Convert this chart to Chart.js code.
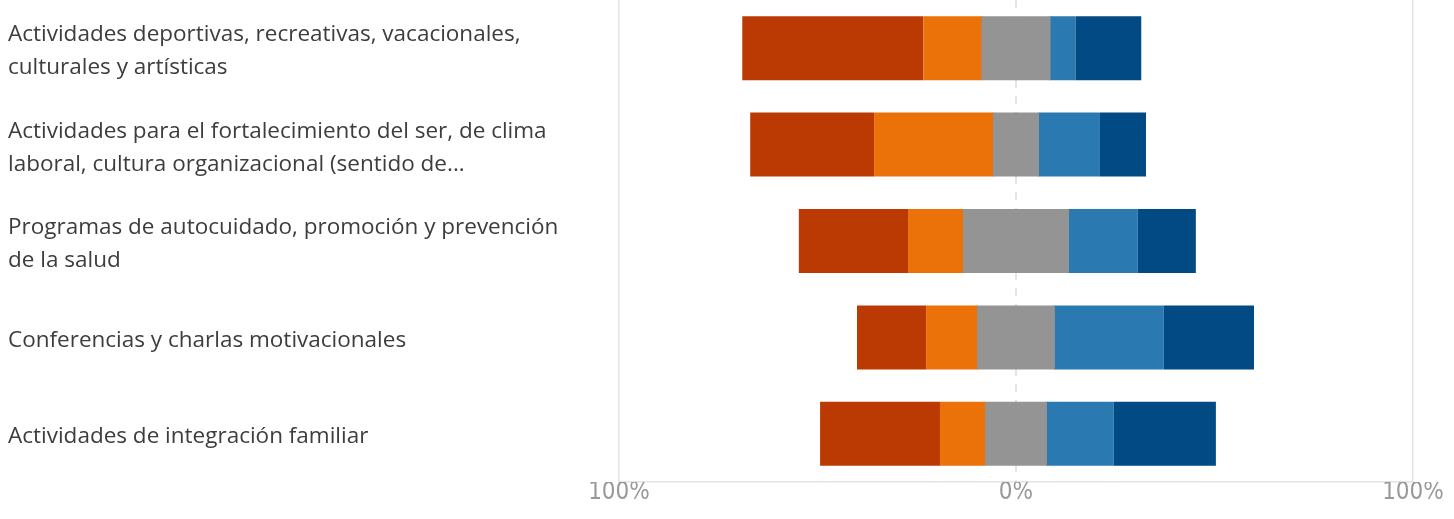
<!DOCTYPE html>
<html>
<head>
<meta charset="utf-8">
<script src="https://cdn.jsdelivr.net/npm/chart.js@4"></script>
<style>
  html, body { margin: 0; padding: 0; background: #fff; }
  #wrap { width: 1454px; height: 519px; position: relative; }
</style>
</head>
<body>
<div id="wrap"><canvas id="c"></canvas></div>
<script>
// Categories (wrapped as shown)
const categories = [
  ["Actividades deportivas, recreativas, vacacionales,", "culturales y artísticas"],
  ["Actividades para el fortalecimiento del ser, de clima", "laboral, cultura organizacional (sentido de..."],
  ["Programas de autocuidado, promoción y prevención", "de la salud"],
  "Conferencias y charlas motivacionales",
  "Actividades de integración familiar"
];
// Series values (% of responses)
const muyInsatisfecho = [45.6, 31.2, 27.5, 17.4, 30.2];
const insatisfecho    = [14.9, 30.2, 14.1, 13.1, 11.6];
const neutral         = [16.9, 11.1, 26.2, 19.1, 15.1];
const satisfecho      = [6.5, 15.6, 17.6, 27.7, 17.1];
const muySatisfecho   = [16.6, 11.6, 14.6, 22.7, 25.7];
const tickValues = [-100, 0, 100];
const tickLabels = ["100%", "0%", "100%"];

const C_RED = '#BB3A03', C_OR = '#EB7209', C_GR = '#949494', C_LB = '#2B79B1', C_DB = '#014A84';

const neg = a => a.map(v => -v);
const half = a => a.map(v => v / 2);

const zeroLine = {
  id: 'zeroLine',
  beforeDatasetsDraw(chart) {
    const x = chart.scales.x.getPixelForValue(0);
    const { top, bottom } = chart.chartArea;
    const ctx = chart.ctx;
    ctx.save();
    ctx.strokeStyle = '#dddddd';
    ctx.lineWidth = 1.5;
    ctx.setLineDash([8, 8]);
    ctx.beginPath();
    ctx.moveTo(Math.round(x), top);
    ctx.lineTo(Math.round(x), bottom);
    ctx.stroke();
    ctx.restore();
  }
};

const common = { stack: 's', borderWidth: 0, barPercentage: 0.664, categoryPercentage: 1 };
// neutral halves are inflated by 1px to hide the seam at 0; thickness compensated
const grayOpts = { ...common, inflateAmount: 1, barPercentage: 0.6433 };

new Chart(document.getElementById('c'), {
  type: 'bar',
  data: {
    labels: categories,
    datasets: [
      { label: 'Neutral', data: neg(half(neutral)), backgroundColor: C_GR, ...grayOpts },
      { label: 'Insatisfecho', data: neg(insatisfecho), backgroundColor: C_OR, ...common },
      { label: 'Muy insatisfecho', data: neg(muyInsatisfecho), backgroundColor: C_RED, ...common },
      { label: 'Neutral ', data: half(neutral), backgroundColor: C_GR, ...grayOpts },
      { label: 'Satisfecho', data: satisfecho, backgroundColor: C_LB, ...common },
      { label: 'Muy satisfecho', data: muySatisfecho, backgroundColor: C_DB, ...common }
    ]
  },
  options: {
    indexAxis: 'y',
    responsive: true,
    maintainAspectRatio: false,
    animation: false,
    layout: { padding: { left: 8, right: 41, top: 0, bottom: 0 } },
    plugins: { legend: { display: false }, tooltip: { enabled: false } },
    scales: {
      x: {
        stacked: true,
        min: -100, max: 100,
        afterBuildTicks: s => { s.ticks = tickValues.map(v => ({ value: v })); },
        afterFit: s => { s.height = 37; },
        ticks: {
          padding: -1,
          color: '#999999',
          font: { family: "'Liberation Sans Narrow', 'DejaVu Sans Condensed', 'Liberation Sans', sans-serif", size: 24, lineHeight: 1 },
          callback: (v, i) => tickLabels[i]
        },
        grid: {
          drawTicks: false,
          color: ctx => (ctx.tick && ctx.tick.value === 0) ? 'rgba(0,0,0,0)' : '#e3e3e3',
          lineWidth: 1.5
        },
        border: { display: true, color: '#e3e3e3', width: 1.5 }
      },
      y: {
        stacked: true,
        afterFit: s => { s.width = 611; s.paddingTop = 0; s.paddingBottom = 0; },
        grid: { display: false, drawTicks: false },
        border: { display: false },
        ticks: {
          crossAlign: 'far',
          padding: 0,
          labelOffset: 3,
          color: '#3d3d3d',
          font: { family: "'Open Sans', 'Noto Sans', sans-serif", size: 22.5, lineHeight: 1.467 }
        }
      }
    }
  },
  plugins: [zeroLine]
});
</script>
</body>
</html>
